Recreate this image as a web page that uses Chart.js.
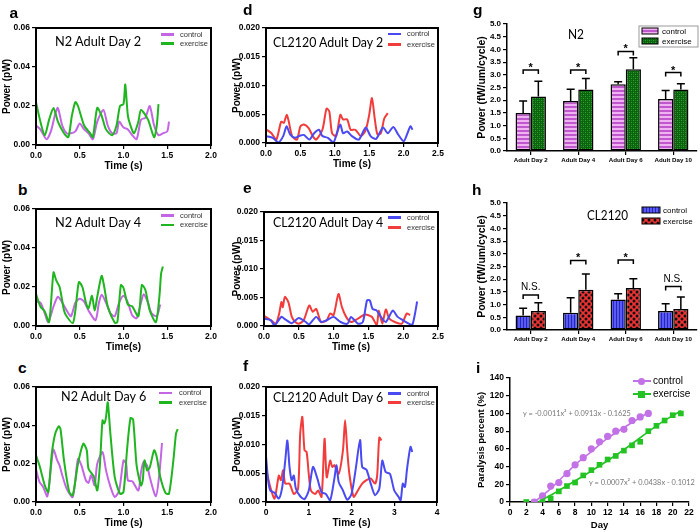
<!DOCTYPE html>
<html lang="en">
<head>
<meta charset="UTF-8">
<title>Muscle power panels</title>
<script src="https://cdn.jsdelivr.net/npm/chart.js"></script>
<style>
  body { margin: 0; background: #fff; }
  #fig { position: relative; width: 700px; height: 532px; overflow: hidden; }
  #fig canvas { position: absolute; }
  .tx { position: absolute; white-space: nowrap; transform-origin: 0 0; }
  .sw { position: absolute; }
</style>
</head>
<body>
<div id="fig"></div>
<script>
// ---- data: power traces (time s, power pW) ----
const aCtrlT = [0,0.05,0.12,0.17,0.22,0.25,0.3,0.35,0.4,0.45,0.5,0.55,0.6,0.65,0.7,0.77,0.82,0.87,0.92,0.95,1.0,1.05,1.1,1.15,1.2,1.25,1.3,1.35,1.4,1.45,1.5,1.52];
const aCtrlP = [0.010,0.008,0.003,0.007,0.016,0.019,0.010,0.006,0.006,0.007,0.011,0.008,0.006,0.003,0.012,0.018,0.010,0.006,0.006,0.012,0.009,0.008,0.005,0.003,0.013,0.014,0.020,0.010,0.005,0.006,0.007,0.012];
const aExT = [0,0.05,0.1,0.15,0.2,0.25,0.32,0.37,0.41,0.45,0.48,0.55,0.62,0.65,0.7,0.75,0.8,0.87,0.92,0.96,1.0,1.02,1.05,1.08,1.12,1.17,1.2,1.28,1.35,1.38,1.4];
const aExP = [0.022,0.012,0.005,0.013,0.019,0.012,0.006,0.004,0.015,0.022,0.020,0.010,0.006,0.004,0.019,0.015,0.008,0.005,0.010,0.020,0.021,0.031,0.015,0.010,0.006,0.012,0.018,0.013,0.004,0.010,0.021];

const bCtrlT = [0,0.05,0.1,0.14,0.2,0.25,0.3,0.35,0.4,0.45,0.5,0.55,0.6,0.68,0.72,0.75,0.8,0.85,0.9,0.95,1.0,1.05,1.1,1.15,1.2,1.23,1.28,1.32,1.38,1.42];
const bCtrlP = [0.0125,0.012,0.0065,0.002,0.010,0.015,0.012,0.008,0.005,0.012,0.014,0.0125,0.008,0.003,0.012,0.016,0.012,0.0065,0.005,0.012,0.0155,0.012,0.0055,0.004,0.012,0.0163,0.012,0.0065,0.005,0.011];
const bExT = [0,0.05,0.1,0.15,0.2,0.23,0.27,0.32,0.35,0.42,0.45,0.49,0.53,0.57,0.6,0.64,0.67,0.7,0.75,0.78,0.82,0.9,0.93,0.97,1.0,1.05,1.1,1.17,1.21,1.25,1.3,1.37,1.41,1.43,1.45];
const bExP = [0.0165,0.010,0.0075,0.002,0.0275,0.0235,0.020,0.008,0.005,0.0015,0.008,0.0225,0.020,0.012,0.009,0.0155,0.008,0.015,0.0257,0.020,0.010,0.0017,0.002,0.021,0.0195,0.011,0.010,0.005,0.021,0.0185,0.008,0.002,0.015,0.027,0.0305];

const cCtrlT = [0,0.04,0.08,0.13,0.18,0.2,0.24,0.27,0.3,0.35,0.42,0.48,0.52,0.57,0.6,0.63,0.67,0.7,0.76,0.8,0.85,0.9,0.95,1.0,1.03,1.05,1.1,1.17,1.2,1.23,1.27,1.3,1.37,1.41,1.44];
const cCtrlP = [0.017,0.0105,0.008,0.003,0.022,0.0275,0.022,0.019,0.014,0.007,0.0026,0.0225,0.019,0.0113,0.010,0.014,0.0087,0.020,0.026,0.0165,0.008,0.0026,0.006,0.0217,0.020,0.0113,0.0108,0.006,0.0157,0.0209,0.019,0.013,0.003,0.0148,0.0308];
const cExT = [0,0.04,0.1,0.14,0.18,0.22,0.26,0.28,0.32,0.38,0.42,0.48,0.54,0.58,0.6,0.66,0.7,0.73,0.76,0.78,0.8,0.82,0.85,0.9,0.96,1.0,1.04,1.08,1.11,1.15,1.2,1.22,1.24,1.27,1.3,1.35,1.38,1.42,1.48,1.52,1.57,1.6,1.62];
const cExP = [0.0243,0.019,0.0087,0.0052,0.025,0.0357,0.0395,0.038,0.0217,0.0052,0.0035,0.020,0.0304,0.027,0.0174,0.0134,0.006,0.019,0.0426,0.041,0.0443,0.052,0.0357,0.013,0.0043,0.0052,0.027,0.0438,0.043,0.019,0.0087,0.0113,0.0217,0.0165,0.018,0.027,0.0235,0.013,0.0047,0.0043,0.0217,0.0357,0.038];

const dCtrlT = [0,0.1,0.18,0.25,0.3,0.35,0.42,0.5,0.55,0.63,0.7,0.77,0.82,0.9,0.98,1.03,1.08,1.12,1.18,1.25,1.35,1.45,1.52,1.6,1.7,1.77,1.85,1.92,2.0,2.05,2.1,2.13];
const dCtrlP = [0.0012,0.0009,0.0001,0.0012,0.0029,0.0015,0.0009,0.0013,0.0014,0.0006,0.0017,0.0023,0.0012,0.0009,0.0001,0.0017,0.0032,0.0017,0.002,0.0012,0.0006,0.0027,0.0012,0.0007,0.0027,0.0017,0.0028,0.0015,0.0003,0.0015,0.0029,0.0023];
const dExT = [0,0.08,0.15,0.22,0.26,0.3,0.33,0.38,0.45,0.5,0.55,0.62,0.68,0.73,0.82,0.88,0.92,0.96,1.02,1.08,1.12,1.18,1.23,1.3,1.38,1.45,1.5,1.54,1.58,1.62,1.67,1.72,1.77];
const dExP = [0.0024,0.0017,0.0006,0.0037,0.0035,0.0049,0.0038,0.0012,0.0006,0.0029,0.0032,0.0026,0.0012,0.0006,0.0023,0.0060,0.0055,0.0017,0.0012,0.0049,0.0041,0.0041,0.0023,0.0023,0.0012,0.0023,0.0049,0.0078,0.0043,0.0015,0.0017,0.0043,0.0052];

const eCtrlT = [0,0.1,0.15,0.25,0.3,0.4,0.5,0.6,0.65,0.75,0.82,0.9,1.0,1.1,1.2,1.25,1.35,1.42,1.48,1.52,1.56,1.62,1.68,1.75,1.85,1.92,2.0,2.08,2.13,2.17,2.2];
const eCtrlP = [0.0013,0.001,0.0001,0.0016,0.0012,0.0005,0.0014,0.0007,0.0003,0.0016,0.0007,0.001,0.0016,0.0007,0.0004,0.0016,0.0004,0.0007,0.0045,0.0045,0.003,0.0027,0.0016,0.0007,0.0027,0.0016,0.001,0.0004,0.0002,0.0022,0.0043];
const eExT = [0,0.1,0.17,0.22,0.25,0.27,0.3,0.35,0.4,0.45,0.5,0.57,0.65,0.7,0.75,0.82,0.9,0.95,1.0,1.07,1.12,1.18,1.25,1.35,1.45,1.55,1.62,1.65,1.7,1.75,1.8,1.88,1.98,2.05,2.1];
const eExP = [0.0018,0.001,0.0004,0.0023,0.0042,0.0033,0.0051,0.0042,0.0016,0.0007,0.0004,0.001,0.0036,0.0025,0.003,0.0007,0.001,0.0022,0.0019,0.0056,0.0033,0.0016,0.0007,0.0013,0.002,0.0016,0.0002,0.0027,0.0004,0.0029,0.0013,0.0007,0.0004,0.0022,0.0019];

const fCtrlT = [0,0.05,0.1,0.2,0.3,0.38,0.45,0.5,0.55,0.6,0.65,0.7,0.8,0.9,1.0,1.1,1.2,1.3,1.4,1.5,1.6,1.65,1.7,1.8,1.9,2.0,2.1,2.2,2.25,2.35,2.45,2.55,2.65,2.72,2.8,2.9,3.0,3.1,3.15,3.2,3.25,3.3,3.38,3.42];
const fCtrlP = [0.008,0.0038,0.002,0.0016,0.0006,0.0026,0.0072,0.0107,0.0061,0.0038,0.0046,0.0023,0.001,0.0005,0.002,0.0061,0.0041,0.0017,0.0014,0.0003,0.0041,0.0064,0.0035,0.002,0.0004,0.0014,0.0058,0.0108,0.0061,0.0056,0.0032,0.0012,0.0023,0.0072,0.0052,0.0049,0.002,0.0009,0.0003,0.0032,0.0026,0.0058,0.0096,0.0087];
const fExT = [0,0.1,0.2,0.3,0.35,0.4,0.45,0.55,0.65,0.75,0.8,0.85,0.9,0.95,1.0,1.05,1.15,1.22,1.3,1.37,1.42,1.5,1.55,1.6,1.7,1.8,1.85,1.9,1.95,2.05,2.15,2.25,2.35,2.45,2.55,2.6,2.65,2.7];
const fExP = [0.0058,0.0026,0.0006,0.0046,0.0038,0.0055,0.0032,0.0032,0.0014,0.0023,0.0119,0.0148,0.009,0.0087,0.0049,0.002,0.0014,0.002,0.0009,0.011,0.0043,0.0072,0.0061,0.0064,0.0049,0.009,0.0142,0.009,0.0049,0.0009,0.002,0.0032,0.0038,0.0041,0.0032,0.0046,0.0112,0.0107];

// ---- data: bar panels (fW/um/cycle) ----
const days = ['Adult Day 2', 'Adult Day 4', 'Adult Day 6', 'Adult Day 10'];
const gCtrl = [1.50, 1.97, 2.63, 2.05];
const gCtrlErr = [0.47, 0.46, 0.10, 0.33];
const gEx = [2.15, 2.42, 3.22, 2.42];
const gExErr = [0.60, 0.43, 0.45, 0.23];
const gBracket = [3.19, 3.19, 3.92, 3.09];
const gMarks = ['*', '*', '*', '*'];

const hCtrl = [0.57, 0.68, 1.20, 0.75];
const hCtrlErr = [0.29, 0.59, 0.23, 0.28];
const hEx = [0.75, 1.58, 1.65, 0.83];
const hExErr = [0.32, 0.62, 0.37, 0.47];
const hBracket = [1.38, 2.74, 2.76, 1.71];
const hMarks = ['N.S.', '*', '*', 'N.S.'];

// ---- data: paralysis (%) by day ----
const iCtrlDay = [3,4,5,6,7,8,9,10,11,12,13,14,15,16,17];
const iCtrlPct = [0,7,18,22,32,42,50,60,68,74,80,82,92,96,100];
const iExDay = [2,3,4,5,6,7,8,9,10,11,12,13,14,15,16,17,18,19,20,21];
const iExPct = [0,0,0,4,12,18,22,30,36,42,48,52,58,64,68,80,86,92,98,100];
const iCtrlFitDay = [3,5,8,10,12,14,17];
const iCtrlFitPct = [0,15,42,57,72,84,101];
const iExFitDay = [3.5,6,10,14,18,21];
const iExFitPct = [0,13,35,59,86,103];

const PURPLE = '#c466e4', GREEN = '#1fb51f', BLUE = '#4a4af2', RED = '#f23c3c';
const SANS = "'Liberation Sans', Arial, sans-serif";

Chart.defaults.font.family = SANS;
Chart.defaults.color = '#000';
Chart.defaults.animation = false;
Chart.defaults.plugins.legend.display = false;
Chart.defaults.plugins.tooltip.enabled = false;

const fig = document.getElementById('fig');

// closes the box around the plot area of the trace panels
const framePlugin = {
  id: 'boxFrame',
  afterDraw(chart) {
    const a = chart.chartArea, ctx = chart.ctx;
    ctx.save();
    ctx.strokeStyle = '#000';
    ctx.lineWidth = 2;
    ctx.strokeRect(a.left, a.top, a.right - a.left, a.bottom - a.top);
    ctx.restore();
  }
};

// error bars, significance brackets and patterned legend for bar panels
const errPlugin = {
  id: 'errs',
  afterDatasetsDraw(chart, args, o) {
    const ctx = chart.ctx, ys = chart.scales.y;
    ctx.save();
    ctx.strokeStyle = '#000';
    ctx.lineWidth = 1.5;
    o.err.forEach((errs, di) => {
      chart.getDatasetMeta(di).data.forEach((bar, j) => {
        const v = chart.data.datasets[di].data[j];
        const yt = ys.getPixelForValue(v + errs[j]);
        ctx.beginPath();
        ctx.moveTo(bar.x, bar.y);
        ctx.lineTo(bar.x, yt);
        ctx.moveTo(bar.x - 4, yt);
        ctx.lineTo(bar.x + 4, yt);
        ctx.stroke();
      });
    });
    const m0 = chart.getDatasetMeta(0), m1 = chart.getDatasetMeta(1);
    ctx.fillStyle = '#000';
    ctx.textAlign = 'center';
    ctx.textBaseline = 'alphabetic';
    o.bracket.forEach((bv, j) => {
      const x1 = m0.data[j].x, x2 = m1.data[j].x, y = ys.getPixelForValue(bv);
      ctx.beginPath();
      ctx.moveTo(x1, y + 4);
      ctx.lineTo(x1, y);
      ctx.lineTo(x2, y);
      ctx.lineTo(x2, y + 4);
      ctx.stroke();
      if (o.marks[j] === '*') {
        ctx.font = 'bold 11px ' + SANS;
        ctx.fillText('*', (x1 + x2) / 2, y + 1);
      } else {
        ctx.font = '10px ' + SANS;
        ctx.fillText(o.marks[j], (x1 + x2) / 2, y - 5);
      }
    });
    const lg = o.legend;
    if (lg.frame) {
      ctx.strokeStyle = '#999';
      ctx.lineWidth = 1;
      ctx.strokeRect(lg.frame[0], lg.frame[1], lg.frame[2], lg.frame[3]);
    }
    ctx.textAlign = 'left';
    ctx.font = lg.size + 'px ' + SANS;
    lg.items.forEach((it, k) => {
      const ds = chart.data.datasets[k];
      ctx.fillStyle = ds.backgroundColor;
      ctx.fillRect(lg.x, it.y, lg.w, lg.h);
      ctx.strokeStyle = '#000';
      ctx.lineWidth = 1;
      ctx.strokeRect(lg.x, it.y, lg.w, lg.h);
      ctx.fillStyle = '#000';
      ctx.fillText(ds.label, lg.tx, it.base);
    });
    ctx.restore();
  }
};

function makePattern(w, h, draw) {
  const c = document.createElement('canvas');
  c.width = w; c.height = h;
  const x = c.getContext('2d');
  draw(x);
  return x.createPattern(c, 'repeat');
}

const gCtrlFill = makePattern(1, 4, x => {
  x.fillStyle = '#f1b2f4'; x.fillRect(0, 0, 1, 4);
  x.fillStyle = '#bf58cc'; x.fillRect(0, 0, 1, 2);
});
const gExFill = makePattern(4, 4, x => {
  x.fillStyle = '#0c630e'; x.fillRect(0, 0, 4, 4);
  x.fillStyle = '#36a236'; x.fillRect(0, 0, 1, 1); x.fillRect(2, 2, 1, 1);
  x.fillStyle = '#1d861f'; x.fillRect(2, 0, 1, 1); x.fillRect(0, 2, 1, 1);
});
const hCtrlFill = makePattern(3, 1, x => {
  x.fillStyle = '#5a5af4'; x.fillRect(0, 0, 3, 1);
  x.fillStyle = '#2626b8'; x.fillRect(0, 0, 1, 1);
});
const hExFill = makePattern(6, 6, x => {
  x.fillStyle = '#f23232'; x.fillRect(0, 0, 6, 6);
  x.fillStyle = '#111';
  [[0,0],[6,0],[0,6],[6,6],[3,3]].forEach(p => { x.beginPath(); x.arc(p[0], p[1], 1.5, 0, Math.PI * 2); x.fill(); });
});

function place(box) {
  const c = document.createElement('canvas');
  c.width = box.w; c.height = box.h;
  c.style.left = box.l + 'px';
  c.style.top = box.t + 'px';
  fig.appendChild(c);
  return c;
}

function fit(box, area) {
  return {
    pad: { left: 0, top: area.t - box.t, right: box.l + box.w - area.r, bottom: 0 },
    yW: area.l - box.l,
    xH: box.t + box.h - area.b
  };
}

function axis(min, max, step, dec, title, fixed, o = {}) {
  return {
    type: 'linear', min, max,
    ticks: {
      stepSize: step, autoSkip: false, maxRotation: 0, padding: 2, color: '#000',
      font: { size: o.tick || 8.5, weight: 'bold' },
      callback: v => Number(v).toFixed(dec)
    },
    grid: { drawOnChartArea: false, tickLength: 4, color: '#000', lineWidth: 1.2 },
    border: { color: '#000', width: 1.5 },
    title: { display: !!title, text: title, color: '#000', padding: 1, font: { size: o.title || 10, weight: 'bold' } },
    afterFit: s => { if (s.isHorizontal()) s.height = fixed; else s.width = fixed; }
  };
}

function pts(xs, ys) { return xs.map((x, i) => ({ x, y: ys[i] })); }

function tracePanel(box, area, xr, yr, xTitle, series) {
  const L = fit(box, area);
  new Chart(place(box), {
    type: 'line',
    data: {
      datasets: series.map(s => ({
        data: pts(s.t, s.p), borderColor: s.color, borderWidth: 2,
        pointRadius: 0, tension: 0.25, fill: false
      }))
    },
    options: {
      responsive: false,
      layout: { padding: L.pad },
      scales: {
        x: axis(xr[0], xr[1], xr[2], xr[3], xTitle, L.xH),
        y: axis(yr[0], yr[1], yr[2], yr[3], 'Power (pW)', L.yW)
      }
    },
    plugins: [framePlugin]
  });
}

function barPanel(box, area, ctrl, ctrlErr, ctrlFill, ex, exErr, exFill, bracket, marks, legend) {
  const L = fit(box, area);
  const yAx = axis(0, 5, 0.5, 1, 'Power (fW/um/cycle)', L.yW, { tick: 8, title: 10.5 });
  new Chart(place(box), {
    type: 'bar',
    data: {
      labels: days,
      datasets: [
        { label: 'control', data: ctrl, backgroundColor: ctrlFill, borderColor: '#000', borderWidth: 1.5, borderSkipped: false },
        { label: 'exercise', data: ex, backgroundColor: exFill, borderColor: '#000', borderWidth: 1.5, borderSkipped: false }
      ]
    },
    options: {
      responsive: false,
      layout: { padding: L.pad },
      datasets: { bar: { categoryPercentage: 0.64, barPercentage: 1.0 } },
      plugins: { errs: { err: [ctrlErr, exErr], bracket, marks, legend } },
      scales: {
        x: {
          type: 'category', offset: true,
          ticks: { autoSkip: false, maxRotation: 0, padding: 2, color: '#000', font: { size: 6.2, weight: 'bold' } },
          grid: { offset: false, drawOnChartArea: false, tickLength: 4, color: '#000', lineWidth: 1.2 },
          border: { color: '#000', width: 1.5 },
          afterFit: s => { s.height = L.xH; }
        },
        y: yAx
      }
    },
    plugins: [errPlugin]
  });
}

// ---- panels a-c (N2) ----
tracePanel({ l: 0, t: 18, w: 225, h: 155 }, { l: 36, t: 28, r: 211, b: 145 },
  [0, 2, 0.5, 1], [0, 0.06, 0.02, 2], 'Time (s)',
  [{ t: aExT, p: aExP, color: GREEN }, { t: aCtrlT, p: aCtrlP, color: PURPLE }]);
tracePanel({ l: 0, t: 199, w: 225, h: 155 }, { l: 36, t: 209, r: 211, b: 326 },
  [0, 2, 0.5, 1], [0, 0.06, 0.02, 2], 'Time(s)',
  [{ t: bExT, p: bExP, color: GREEN }, { t: bCtrlT, p: bCtrlP, color: PURPLE }]);
tracePanel({ l: 0, t: 377, w: 225, h: 153 }, { l: 36, t: 387, r: 211, b: 502 },
  [0, 2, 0.5, 1], [0, 0.06, 0.02, 2], 'Time (s)',
  [{ t: cExT, p: cExP, color: GREEN }, { t: cCtrlT, p: cCtrlP, color: PURPLE }]);

// ---- panels d-f (CL2120) ----
tracePanel({ l: 230, t: 18, w: 222, h: 153 }, { l: 266, t: 28, r: 438, b: 143 },
  [0, 2.5, 0.5, 1], [0, 0.02, 0.005, 3], 'Time (s)',
  [{ t: dCtrlT, p: dCtrlP, color: BLUE }, { t: dExT, p: dExP, color: RED }]);
tracePanel({ l: 230, t: 202, w: 222, h: 152 }, { l: 264, t: 212, r: 438, b: 326 },
  [0, 2.5, 0.5, 1], [0, 0.02, 0.005, 3], 'Time (s)',
  [{ t: eCtrlT, p: eCtrlP, color: BLUE }, { t: eExT, p: eExP, color: RED }]);
tracePanel({ l: 230, t: 377, w: 222, h: 153 }, { l: 266, t: 387, r: 437, b: 502 },
  [0, 4, 1, 0], [0, 0.02, 0.005, 3], 'Time (s)',
  [{ t: fCtrlT, p: fCtrlP, color: BLUE }, { t: fExT, p: fExP, color: RED }]);

// ---- panels g, h (bars) ----
barPanel({ l: 475, t: 10, w: 225, h: 160 }, { l: 507, t: 24, r: 697, b: 151 },
  gCtrl, gCtrlErr, gCtrlFill, gEx, gExErr, gExFill, gBracket, gMarks,
  { frame: [164, 16, 59, 21], x: 167, w: 16, h: 6, tx: 187, size: 8,
    items: [{ y: 18, base: 23.5 }, { y: 28, base: 33.5 }] });
barPanel({ l: 475, t: 190, w: 225, h: 160 }, { l: 507, t: 203, r: 697, b: 330 },
  hCtrl, hCtrlErr, hCtrlFill, hEx, hExErr, hExFill, hBracket, hMarks,
  { x: 167, w: 18, h: 6, tx: 188, size: 8,
    items: [{ y: 17, base: 23 }, { y: 28, base: 34 }] });

// ---- panel i (paralysis) ----
(function () {
  const box = { l: 475, t: 368, w: 225, h: 164 }, area = { l: 510, t: 378, r: 689, b: 502 };
  const L = fit(box, area);
  new Chart(place(box), {
    type: 'line',
    data: {
      datasets: [
        { data: pts(iCtrlFitDay, iCtrlFitPct), borderColor: '#c272e6', borderWidth: 1.6, pointRadius: 0, tension: 0.3 },
        { data: pts(iExFitDay, iExFitPct), borderColor: '#22c322', borderWidth: 1.6, pointRadius: 0, tension: 0.3 },
        { data: pts(iCtrlDay, iCtrlPct), showLine: false, pointStyle: 'circle', pointRadius: 3.6, backgroundColor: '#c272e6', borderWidth: 0 },
        { data: pts(iExDay, iExPct), showLine: false, pointStyle: 'rect', pointRadius: 4, backgroundColor: '#22c322', borderWidth: 0 }
      ]
    },
    options: {
      responsive: false,
      layout: { padding: L.pad },
      scales: {
        x: axis(0, 22, 2, 0, 'Day', L.xH, { tick: 8.5, title: 9.5 }),
        y: axis(0, 140, 20, 0, 'Paralysis percent (%)', L.yW, { tick: 8.5, title: 9.5 })
      }
    }
  });
})();

// ---- text overlays ----
const meas = document.createElement('canvas').getContext('2d');
function addText(s, x, base, size, o = {}) {
  const fam = o.family || SANS, wt = o.weight || 'normal';
  const font = `${wt} ${size}px ${fam}`;
  meas.font = font;
  const m = meas.measureText(s);
  const asc = m.fontBoundingBoxAscent, desc = m.fontBoundingBoxDescent;
  const el = document.createElement('div');
  el.className = 'tx';
  el.textContent = s;
  el.style.font = font;
  el.style.lineHeight = size + 'px';
  el.style.color = o.color || '#000';
  el.style.left = x + 'px';
  el.style.top = (base - ((size - asc - desc) / 2 + asc)) + 'px';
  if (o.w) el.style.transform = `scaleX(${o.w / m.width})`;
  fig.appendChild(el);
}
function swatch(x, y, w, h, color) {
  const el = document.createElement('div');
  el.className = 'sw';
  Object.assign(el.style, { left: x + 'px', top: (y - h / 2) + 'px', width: w + 'px', height: h + 'px', background: color });
  fig.appendChild(el);
  return el;
}

// panel letters
[['a', 9.5, 18.5], ['d', 243, 15], ['g', 473, 15.5], ['b', 18, 195], ['e', 243, 193],
 ['h', 472, 195], ['c', 18, 373], ['f', 243, 371], ['i', 476, 373]]
  .forEach(p => addText(p[0], p[1], p[2], 15.5, { weight: 'bold' }));

// titles inside the plots
const TITLE = "Lato, 'Open Sans', sans-serif";
addText('N2 Adult Day 2', 55, 46.5, 13, { family: TITLE, w: 87 });
addText('N2 Adult Day 4', 55, 227, 13, { family: TITLE, w: 87 });
addText('N2 Adult Day 6', 61, 401, 13, { family: TITLE, w: 86 });
addText('CL2120 Adult Day 2', 273, 47, 13, { family: TITLE, w: 111 });
addText('CL2120 Adult Day 4', 273, 227, 13, { family: TITLE, w: 111 });
addText('CL2120 Adult Day 6', 273, 402, 13, { family: TITLE, w: 111 });
addText('N2', 568, 39, 13, { family: TITLE, w: 16 });
addText('CL2120', 587, 220, 13, { family: TITLE, w: 41 });

// trace legends
function traceLegend(sx, tx, y1, y2, c1, c2) {
  swatch(sx, y1, 13, 2.5, c1);
  swatch(sx, y2, 13, 2.5, c2);
  addText('control', tx, y1 + 2.7, 7.5, { color: '#333' });
  addText('exercise', tx, y2 + 2.7, 7.5, { color: '#333' });
}
traceLegend(161, 180, 34.3, 43.7, PURPLE, GREEN);
traceLegend(161, 180, 215.3, 225, PURPLE, GREEN);
traceLegend(159, 179, 393, 402.3, PURPLE, GREEN);
traceLegend(388, 407, 34, 44.3, BLUE, RED);
traceLegend(388, 407, 217.7, 227.3, BLUE, RED);
traceLegend(388, 407, 393.3, 402.7, BLUE, RED);

// panel i legend and fit equations
swatch(633, 381, 18, 1.6, '#c272e6');
const dot = swatch(638, 381, 7, 7, '#c272e6'); dot.style.borderRadius = '50%';
addText('control', 653, 384.5, 10);
swatch(633, 394, 18, 1.6, '#22c322');
swatch(638, 394, 7, 7, '#22c322');
addText('exercise', 653, 397.5, 10);
addText('y = -0.0011x\u00b2 + 0.0913x - 0.1625', 523, 416, 8, { family: TITLE, color: '#777', w: 108 });
addText('y = 0.0007x\u00b2 + 0.0438x - 0.1012', 589, 485, 8, { family: TITLE, color: '#777', w: 106 });
</script>
</body>
</html>
